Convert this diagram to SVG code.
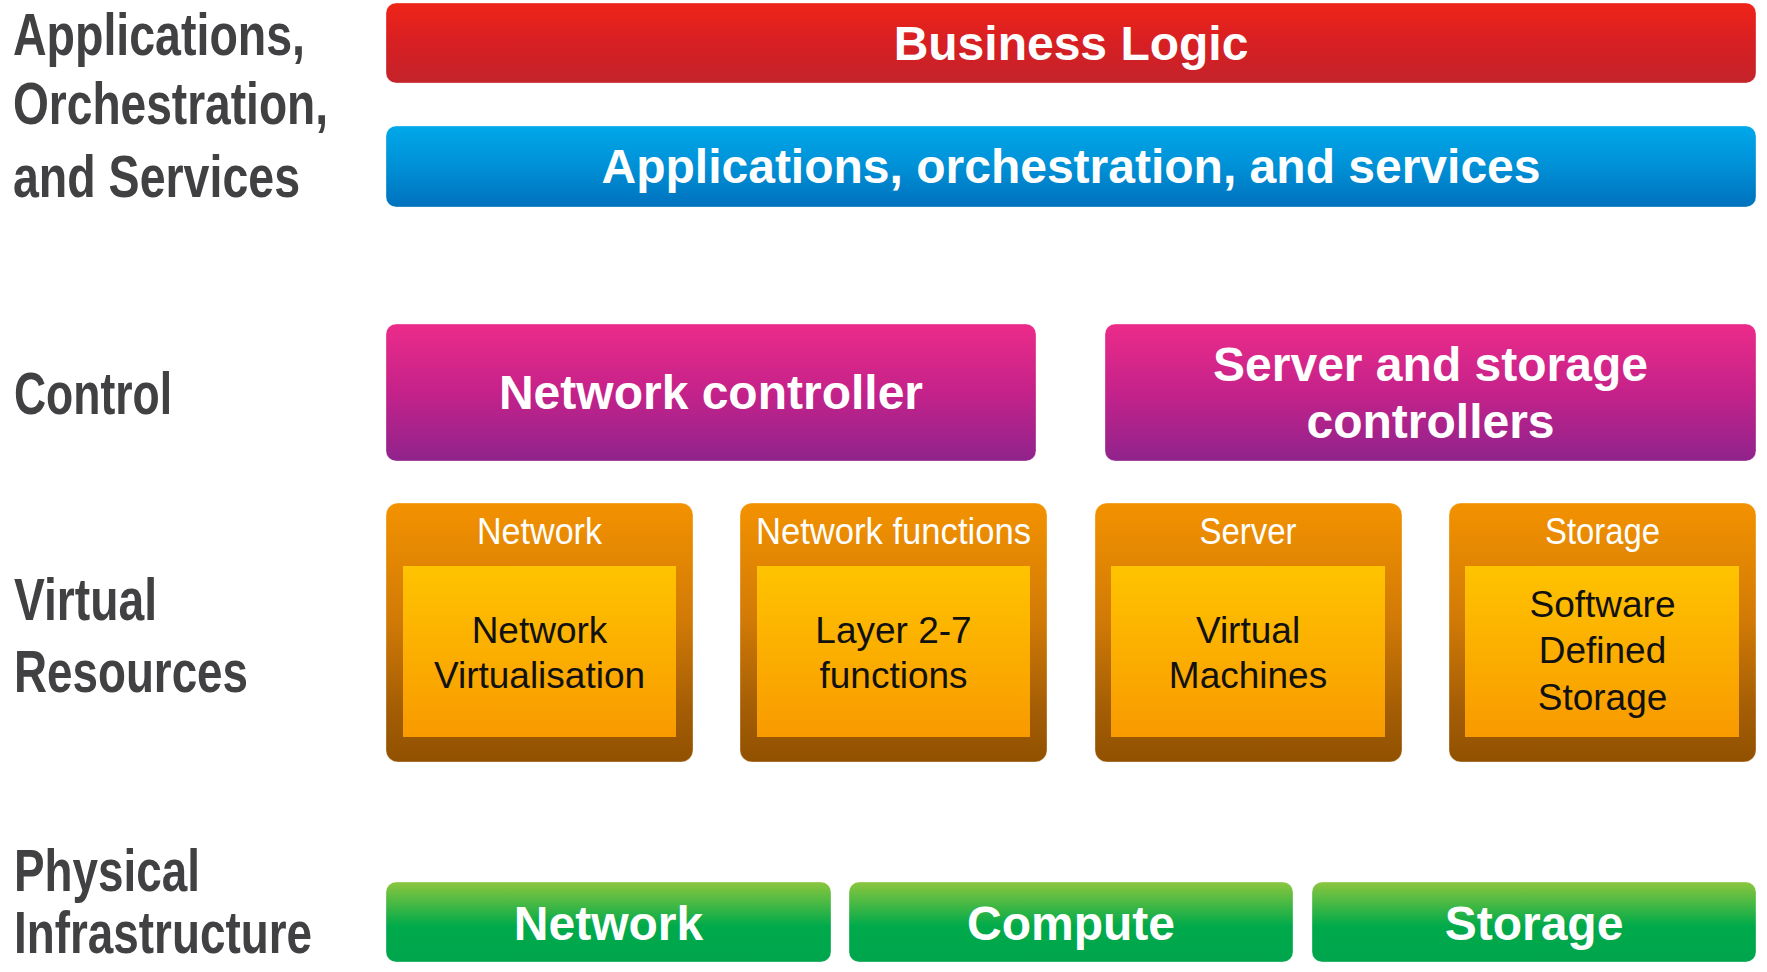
<svg xmlns="http://www.w3.org/2000/svg" width="1767" height="972" viewBox="0 0 1767 972">
<defs>
<linearGradient id="gRed" x1="0" y1="0" x2="0" y2="1">
<stop offset="0" stop-color="#ef2418"/><stop offset="0.5" stop-color="#d71f23"/><stop offset="1" stop-color="#c3232a"/>
</linearGradient>
<linearGradient id="gBlue" x1="0" y1="0" x2="0" y2="1">
<stop offset="0" stop-color="#00a8ea"/><stop offset="0.5" stop-color="#0090d6"/><stop offset="1" stop-color="#0071bd"/>
</linearGradient>
<linearGradient id="gMag" x1="0" y1="0" x2="0" y2="1">
<stop offset="0" stop-color="#ec2b89"/><stop offset="0.5" stop-color="#c4228a"/><stop offset="1" stop-color="#90238c"/>
</linearGradient>
<linearGradient id="gOrOut" x1="0" y1="0" x2="0" y2="1">
<stop offset="0" stop-color="#f39200"/><stop offset="0.45" stop-color="#d17a06"/><stop offset="0.8" stop-color="#a45d05"/><stop offset="1" stop-color="#915100"/>
</linearGradient>
<linearGradient id="gOrIn" x1="0" y1="0" x2="0" y2="1">
<stop offset="0" stop-color="#ffc300"/><stop offset="1" stop-color="#f89a00"/>
</linearGradient>
<linearGradient id="gGreen" x1="0" y1="0" x2="0" y2="1">
<stop offset="0" stop-color="#8cc63e"/><stop offset="0.55" stop-color="#00aa4a"/><stop offset="1" stop-color="#00a54d"/>
</linearGradient>
</defs>
<style>
.lbl{font-family:"Liberation Sans Narrow","Liberation Sans",Arial,sans-serif;font-weight:bold;font-size:60px;fill:#414042}
.bar{font-family:"Liberation Sans",Arial,sans-serif;font-weight:bold;font-size:48px;fill:#ffffff;text-anchor:middle}
.ttl{font-family:"Liberation Sans Narrow","Liberation Sans",Arial,sans-serif;font-size:36px;fill:#ffffff;text-anchor:middle}
.inn{font-family:"Liberation Sans",Arial,sans-serif;font-size:37px;fill:#111111;text-anchor:middle}
.bx{stroke:#ffffff;stroke-opacity:0.35;stroke-width:1}
</style>

<g id="labels">
<text class="lbl" x="13" y="55" textLength="292" lengthAdjust="spacingAndGlyphs">Applications,</text>
<text class="lbl" x="13" y="124" textLength="315" lengthAdjust="spacingAndGlyphs">Orchestration,</text>
<text class="lbl" x="13" y="197" textLength="287" lengthAdjust="spacingAndGlyphs">and Services</text>
<text class="lbl" x="14" y="414" textLength="158" lengthAdjust="spacingAndGlyphs">Control</text>
<text class="lbl" x="14" y="620" textLength="143" lengthAdjust="spacingAndGlyphs">Virtual</text>
<text class="lbl" x="14" y="692" textLength="234" lengthAdjust="spacingAndGlyphs">Resources</text>
<text class="lbl" x="14" y="891" font-size="54" textLength="186" lengthAdjust="spacingAndGlyphs">Physical</text>
<text class="lbl" x="14" y="953" font-size="54" textLength="298" lengthAdjust="spacingAndGlyphs">Infrastructure</text>
</g>

<g id="business-logic">
<rect class="bx" x="386" y="3" width="1370" height="80" rx="10" fill="url(#gRed)"/>
<text class="bar" x="1071" y="60">Business Logic</text>
</g>
<g id="applications">
<rect class="bx" x="386" y="126" width="1370" height="81" rx="10" fill="url(#gBlue)"/>
<text class="bar" x="1071" y="183">Applications, orchestration, and services</text>
</g>

<g id="network-controller">
<rect class="bx" x="386" y="324" width="650" height="137" rx="10" fill="url(#gMag)"/>
<text class="bar" x="711" y="409">Network controller</text>
</g>
<g id="server-storage-controllers">
<rect class="bx" x="1105" y="324" width="651" height="137" rx="10" fill="url(#gMag)"/>
<text class="bar" x="1430.5" y="381">Server and storage</text>
<text class="bar" x="1430.5" y="438">controllers</text>
</g>

<g id="vr-network">
<rect class="bx" x="386" y="503" width="307" height="259" rx="12" fill="url(#gOrOut)"/>
<rect x="403" y="566" width="273" height="171" fill="url(#gOrIn)"/>
<text class="ttl" x="539.5" y="544" textLength="125" lengthAdjust="spacingAndGlyphs">Network</text>
<text class="inn" x="539.5" y="643">Network</text>
<text class="inn" x="539.5" y="688">Virtualisation</text>
</g>
<g id="vr-network-functions">
<rect class="bx" x="740" y="503" width="307" height="259" rx="12" fill="url(#gOrOut)"/>
<rect x="757" y="566" width="273" height="171" fill="url(#gOrIn)"/>
<text class="ttl" x="893.5" y="544" textLength="275" lengthAdjust="spacingAndGlyphs">Network functions</text>
<text class="inn" x="893.5" y="643">Layer 2-7</text>
<text class="inn" x="893.5" y="688">functions</text>
</g>
<g id="vr-server">
<rect class="bx" x="1095" y="503" width="307" height="259" rx="12" fill="url(#gOrOut)"/>
<rect x="1111" y="566" width="274" height="171" fill="url(#gOrIn)"/>
<text class="ttl" x="1248" y="544" textLength="97" lengthAdjust="spacingAndGlyphs">Server</text>
<text class="inn" x="1248" y="643">Virtual</text>
<text class="inn" x="1248" y="688">Machines</text>
</g>
<g id="vr-storage">
<rect class="bx" x="1449" y="503" width="307" height="259" rx="12" fill="url(#gOrOut)"/>
<rect x="1465" y="566" width="274" height="171" fill="url(#gOrIn)"/>
<text class="ttl" x="1602.5" y="544" textLength="115" lengthAdjust="spacingAndGlyphs">Storage</text>
<text class="inn" x="1602.5" y="617">Software</text>
<text class="inn" x="1602.5" y="663">Defined</text>
<text class="inn" x="1602.5" y="710">Storage</text>
</g>

<g id="pi-network">
<rect class="bx" x="386" y="882" width="445" height="80" rx="10" fill="url(#gGreen)"/>
<text class="bar" x="608.5" y="940" font-size="49">Network</text>
</g>
<g id="pi-compute">
<rect class="bx" x="849" y="882" width="444" height="80" rx="10" fill="url(#gGreen)"/>
<text class="bar" x="1071" y="940">Compute</text>
</g>
<g id="pi-storage">
<rect class="bx" x="1312" y="882" width="444" height="80" rx="10" fill="url(#gGreen)"/>
<text class="bar" x="1534" y="940">Storage</text>
</g>

<g id="connectors"></g>
</svg>
